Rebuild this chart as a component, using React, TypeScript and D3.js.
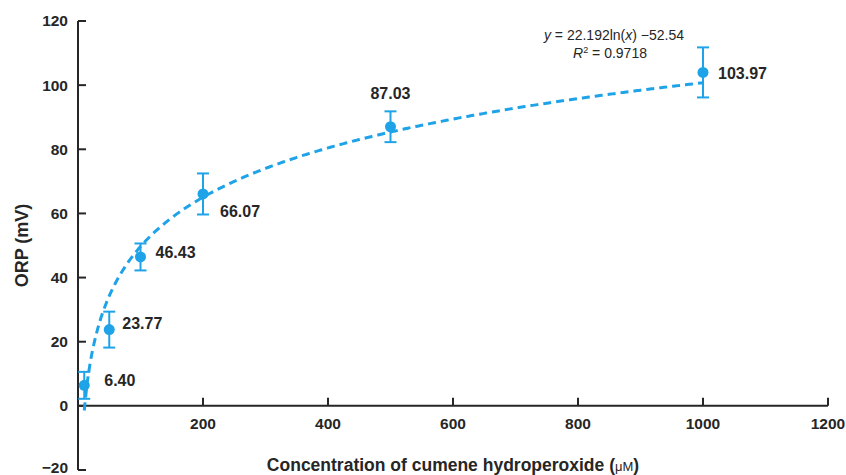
import React from "react";
import * as d3 from "d3";

const concentrations = [10, 50, 100, 200, 500, 1000];
const orpValues = [6.4, 23.77, 46.43, 66.07, 87.03, 103.97];
const errors = [4.2, 5.6, 4.2, 6.4, 4.8, 7.8];
const valueLabels = ["6.40", "23.77", "46.43", "66.07", "87.03", "103.97"];
const labelOffsets: [number, number, string][] = [
  [20, 1, "start"],
  [13, -1, "start"],
  [15, 1, "start"],
  [17, 23, "start"],
  [0, -28, "middle"],
  [15, 7, "start"],
];
const xTicks = [200, 400, 600, 800, 1000, 1200];
const yTicks = [-20, 0, 20, 40, 60, 80, 100, 120];
const fitA = 22.192;
const fitB = -52.54;

const BLUE = "#1fa3e8";
const DARK = "#262626";

export default function App() {
  const x = d3.scaleLinear().domain([0, 1200]).range([78, 828]);
  const y = d3.scaleLinear().domain([-20, 120]).range([470, 21]);

  const fitPts = d3.range(10, 1000.01, 5).map((c) => [c, fitA * Math.log(c) + fitB] as [number, number]);
  const line = d3
    .line<[number, number]>()
    .x((d) => x(d[0]))
    .y((d) => y(d[1]))
    .curve(d3.curveMonotoneX);

  const font = "'Liberation Sans', Arial, sans-serif";

  return (
    <svg width={846} height={475} style={{ position: "absolute", left: 0, top: 0, background: "#fff" }} fontFamily={font}>
      {/* y axis */}
      <line x1={x(0)} x2={x(0)} y1={y(-20)} y2={y(120)} stroke={DARK} strokeWidth={2} />
      {yTicks.map((t) => (
        <g key={t}>
          <line x1={x(0)} x2={x(0) + 8} y1={y(t)} y2={y(t)} stroke={DARK} strokeWidth={2} />
          <text x={x(0) - 10} y={t < 0 ? y(t) - 2 : y(t)} dy="0.35em" textAnchor="end" fontSize={15.5} fontWeight="bold" fill={DARK}>
            {t < 0 ? "\u2212" + Math.abs(t) : t}
          </text>
        </g>
      ))}
      {/* x axis */}
      <line x1={x(0)} x2={x(1200)} y1={y(0)} y2={y(0)} stroke={DARK} strokeWidth={2} />
      {xTicks.map((t) => (
        <g key={t}>
          <line x1={x(t)} x2={x(t)} y1={y(0)} y2={y(0) - 8} stroke={DARK} strokeWidth={2} />
          <text x={x(t)} y={y(0) + 23} textAnchor="middle" fontSize={15.5} fontWeight="bold" fill={DARK}>
            {t}
          </text>
        </g>
      ))}
      {/* axis titles */}
      <text x={453} y={471} textAnchor="middle" fontSize={17.5} fontWeight="bold" fill={DARK}>
        Concentration of cumene hydroperoxide (<tspan fontSize={13} fontWeight="normal">μM</tspan>)
      </text>
      <text transform={`translate(28,${y(50)}) rotate(-90)`} textAnchor="middle" fontSize={18} fontWeight="bold" fill={DARK}>
        ORP (mV)
      </text>
      {/* fit line */}
      <path d={line(fitPts) || ""} fill="none" stroke={BLUE} strokeWidth={3} strokeDasharray="8,5" />
      {/* error bars & points */}
      {concentrations.map((c, i) => {
        const cx = x(c);
        const top = y(orpValues[i] + errors[i]);
        const bot = y(orpValues[i] - errors[i]);
        return (
          <g key={c}>
            <line x1={cx} x2={cx} y1={top} y2={bot} stroke={BLUE} strokeWidth={2} />
            <line x1={cx - 6} x2={cx + 6} y1={top} y2={top} stroke={BLUE} strokeWidth={2} />
            <line x1={cx - 6} x2={cx + 6} y1={bot} y2={bot} stroke={BLUE} strokeWidth={2} />
            <circle cx={cx} cy={y(orpValues[i])} r={5.5} fill={BLUE} />
            <text
              x={cx + labelOffsets[i][0]}
              y={y(orpValues[i]) + labelOffsets[i][1]}
              textAnchor={labelOffsets[i][2] as any}
              fontSize={16}
              fontWeight="bold"
              fill={DARK}
            >
              {valueLabels[i]}
            </text>
          </g>
        );
      })}
      {/* equation */}
      <text x={614} y={40} textAnchor="middle" fontSize={14} fill={DARK}>
        <tspan fontStyle="italic">y</tspan> = 22.192ln(<tspan fontStyle="italic">x</tspan>) −52.54
      </text>
      <text x={610} y={58} textAnchor="middle" fontSize={14} fill={DARK}>
        <tspan fontStyle="italic">R</tspan>
        <tspan fontSize={9} dy={-5}>2</tspan>
        <tspan dy={5}> = 0.9718</tspan>
      </text>
    </svg>
  );
}
